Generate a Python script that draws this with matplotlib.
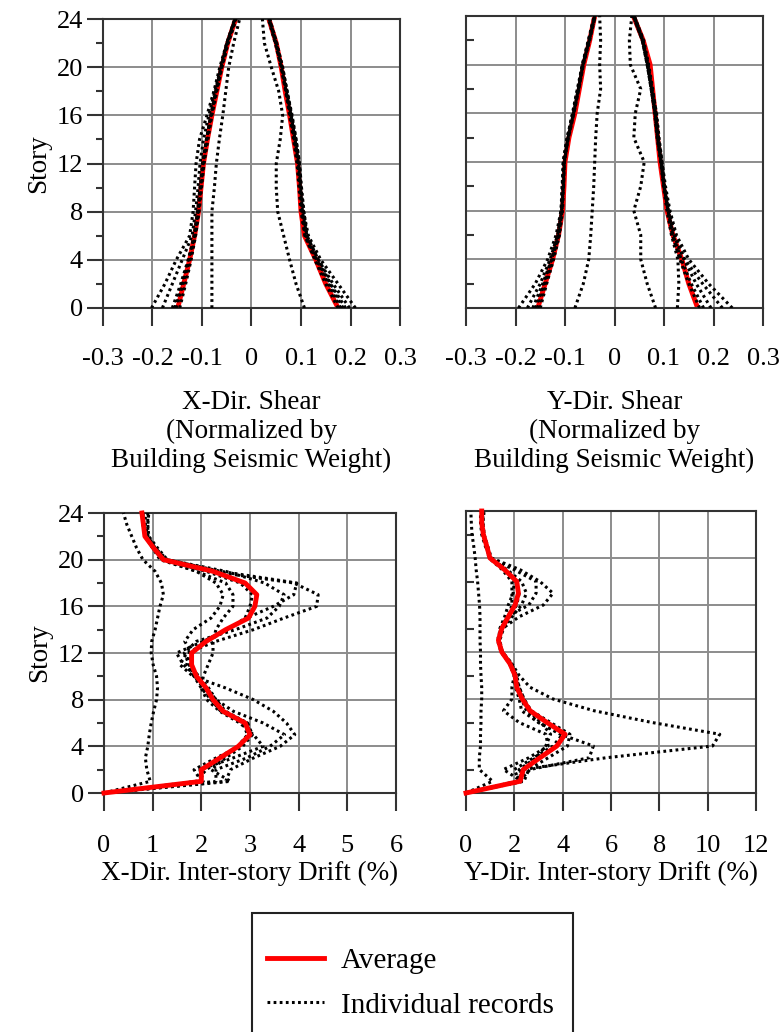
import matplotlib
matplotlib.use("Agg")
import matplotlib.pyplot as plt
from matplotlib.ticker import MultipleLocator
from matplotlib.lines import Line2D
from matplotlib.patches import Rectangle

plt.rcParams['font.family'] = ['Liberation Serif', 'DejaVu Serif']

# storeys used for the shear profiles and for the drift profiles
story_shear = [0, 2, 4, 6, 8, 10, 12, 14, 16, 18, 20, 22, 24]
story_drift = [0, 1, 2, 3, 4, 5, 6, 7, 8, 9, 10, 11, 12,
               13, 14, 15, 16, 17, 18, 19, 20, 21, 22, 23, 24]

# X-direction storey shear / seismic weight, positive and negative envelopes
x_shear_avg_pos = [0.175, 0.15, 0.13, 0.107, 0.1, 0.097, 0.093, 0.085, 0.077, 0.068, 0.06, 0.05, 0.035]
x_shear_avg_neg = [-0.149, -0.137, -0.125, -0.115, -0.107, -0.102, -0.097, -0.089, -0.08, -0.07, -0.06, -0.048, -0.032]
x_shear_pos = [
    [0.107, 0.09, 0.077, 0.065, 0.053, 0.05, 0.05, 0.058, 0.063, 0.055, 0.04, 0.026, 0.022],
    [0.21, 0.175, 0.14, 0.115, 0.105, 0.1, 0.097, 0.09, 0.082, 0.072, 0.062, 0.05, 0.036],
    [0.198, 0.165, 0.135, 0.112, 0.103, 0.099, 0.095, 0.088, 0.08, 0.07, 0.06, 0.048, 0.034],
    [0.185, 0.158, 0.132, 0.11, 0.104, 0.1, 0.096, 0.087, 0.079, 0.071, 0.062, 0.05, 0.035],
    [0.18, 0.155, 0.13, 0.108, 0.102, 0.098, 0.094, 0.086, 0.078, 0.07, 0.061, 0.049, 0.036],
    [0.19, 0.16, 0.135, 0.112, 0.106, 0.101, 0.097, 0.09, 0.081, 0.072, 0.063, 0.051, 0.037],
    [0.175, 0.15, 0.128, 0.108, 0.1, 0.096, 0.092, 0.085, 0.077, 0.069, 0.06, 0.05, 0.036],
]
x_shear_neg = [
    [-0.08, -0.08, -0.08, -0.08, -0.08, -0.075, -0.071, -0.065, -0.058, -0.052, -0.046, -0.036, -0.024],
    [-0.202, -0.175, -0.152, -0.125, -0.118, -0.115, -0.112, -0.105, -0.09, -0.076, -0.064, -0.05, -0.034],
    [-0.18, -0.16, -0.14, -0.12, -0.113, -0.108, -0.104, -0.097, -0.086, -0.074, -0.062, -0.05, -0.033],
    [-0.16, -0.143, -0.128, -0.115, -0.108, -0.103, -0.098, -0.091, -0.082, -0.072, -0.061, -0.049, -0.033],
    [-0.152, -0.138, -0.125, -0.114, -0.107, -0.102, -0.097, -0.09, -0.081, -0.071, -0.06, -0.048, -0.032],
    [-0.145, -0.133, -0.122, -0.113, -0.106, -0.101, -0.096, -0.088, -0.08, -0.07, -0.06, -0.047, -0.031],
    [-0.155, -0.14, -0.127, -0.116, -0.109, -0.104, -0.099, -0.091, -0.082, -0.072, -0.061, -0.049, -0.033],
]

# Y-direction storey shear / seismic weight
y_shear_avg_pos = [0.168, 0.15, 0.136, 0.118, 0.106, 0.099, 0.092, 0.087, 0.082, 0.077, 0.072, 0.058, 0.038]
y_shear_avg_neg = [-0.155, -0.14, -0.125, -0.113, -0.105, -0.102, -0.1, -0.092, -0.08, -0.071, -0.062, -0.05, -0.04]
y_shear_pos = [
    [0.083, 0.066, 0.053, 0.053, 0.039, 0.053, 0.06, 0.039, 0.042, 0.053, 0.032, 0.03, 0.035],
    [0.238, 0.19, 0.15, 0.125, 0.112, 0.103, 0.096, 0.09, 0.085, 0.076, 0.068, 0.058, 0.04],
    [0.218, 0.178, 0.142, 0.122, 0.11, 0.1, 0.095, 0.088, 0.083, 0.075, 0.066, 0.056, 0.038],
    [0.195, 0.165, 0.14, 0.12, 0.108, 0.1, 0.094, 0.087, 0.082, 0.074, 0.067, 0.057, 0.04],
    [0.127, 0.13, 0.128, 0.115, 0.106, 0.099, 0.093, 0.086, 0.081, 0.074, 0.066, 0.056, 0.038],
    [0.18, 0.155, 0.135, 0.118, 0.109, 0.101, 0.096, 0.089, 0.084, 0.077, 0.069, 0.059, 0.04],
    [0.172, 0.15, 0.132, 0.117, 0.108, 0.1, 0.094, 0.087, 0.082, 0.075, 0.067, 0.057, 0.039],
]
y_shear_neg = [
    [-0.08, -0.063, -0.052, -0.048, -0.045, -0.042, -0.04, -0.038, -0.035, -0.028, -0.03, -0.028, -0.03],
    [-0.194, -0.16, -0.135, -0.118, -0.108, -0.104, -0.102, -0.095, -0.084, -0.074, -0.065, -0.052, -0.04],
    [-0.176, -0.15, -0.13, -0.115, -0.107, -0.103, -0.101, -0.094, -0.083, -0.073, -0.064, -0.051, -0.04],
    [-0.165, -0.145, -0.127, -0.112, -0.106, -0.104, -0.102, -0.093, -0.082, -0.072, -0.063, -0.05, -0.039],
    [-0.155, -0.14, -0.125, -0.113, -0.108, -0.106, -0.103, -0.095, -0.085, -0.075, -0.065, -0.053, -0.041],
    [-0.16, -0.142, -0.127, -0.114, -0.107, -0.105, -0.104, -0.096, -0.084, -0.074, -0.064, -0.052, -0.04],
    [-0.15, -0.137, -0.123, -0.111, -0.105, -0.103, -0.101, -0.093, -0.082, -0.072, -0.063, -0.051, -0.039],
]

# inter-storey drift (%), X direction
x_drift_avg = [0, 2.0, 2.0, 2.38, 2.76, 3.0, 2.9, 2.45, 2.24, 2.1, 1.9, 1.8, 1.8,
               2.1, 2.5, 2.97, 3.1, 3.14, 2.9, 2.24, 1.22, 1.02, 0.84, 0.81, 0.78]
x_drift = [
    [0, 0.95, 0.88, 0.85, 0.9, 0.93, 0.97, 1.02, 1.08, 1.1, 1.08, 1.01, 0.97,
     0.98, 1.05, 1.1, 1.15, 1.22, 1.18, 1.05, 0.8, 0.67, 0.57, 0.47, 0.4],
    [0, 2.5, 2.6, 3.07, 3.62, 3.92, 3.75, 3.48, 3.07, 2.5, 1.83, 1.56, 1.7,
     2.3, 3.07, 3.7, 4.37, 4.4, 3.9, 2.2, 1.25, 1.05, 0.9, 0.9, 0.92],
    [0, 2.3, 2.3, 2.93, 3.41, 3.71, 3.27, 2.66, 2.3, 2.11, 1.9, 1.63, 1.49,
     2.04, 2.52, 2.93, 3.48, 3.9, 3.96, 2.4, 1.3, 1.1, 0.92, 0.9, 0.9],
    [0, 2.04, 1.97, 2.65, 3.27, 3.07, 2.79, 2.38, 2.11, 2.0, 2.04, 2.14, 2.24,
     2.24, 2.3, 2.45, 2.65, 2.65, 2.5, 1.9, 1.15, 1.0, 0.85, 0.8, 0.8],
    [0, 2.0, 1.85, 2.3, 2.8, 3.0, 2.95, 2.4, 2.2, 2.0, 1.85, 1.75, 1.8,
     1.66, 1.83, 2.2, 2.38, 2.45, 2.3, 1.9, 1.2, 1.0, 0.85, 0.8, 0.78],
    [0, 2.6, 2.2, 2.5, 2.85, 3.05, 2.95, 2.5, 2.3, 2.15, 1.95, 1.75, 1.65,
     1.9, 2.7, 3.35, 3.6, 3.7, 3.3, 2.5, 1.3, 1.05, 0.9, 0.85, 0.85],
    [0, 1.9, 2.1, 2.45, 2.75, 2.95, 2.85, 2.45, 2.2, 2.05, 1.85, 1.7, 1.75,
     2.1, 2.55, 2.9, 3.0, 3.05, 2.8, 2.1, 1.2, 1.0, 0.85, 0.82, 0.8],
]

# inter-storey drift (%), Y direction
y_drift_avg = [0, 2.24, 2.37, 3.06, 3.76, 4.1, 3.35, 2.65, 2.33, 2.1, 2.03, 1.82, 1.48,
               1.34, 1.48, 1.75, 2.03, 2.17, 2.1, 1.6, 0.99, 0.86, 0.72, 0.65, 0.65]
y_drift = [
    [0, 1.1, 0.55, 0.55, 0.6, 0.6, 0.62, 0.62, 0.65, 0.65, 0.62, 0.6, 0.6,
     0.58, 0.58, 0.58, 0.56, 0.52, 0.48, 0.42, 0.38, 0.32, 0.25, 0.22, 0.2],
    [0, 2.1, 2.3, 5.8, 10.2, 10.5, 7.7, 5.3, 3.6, 2.65, 2.2, 1.9, 1.5,
     1.4, 1.55, 1.9, 2.3, 2.5, 2.3, 1.7, 1.0, 0.85, 0.7, 0.65, 0.65],
    [0, 2.2, 2.65, 5.1, 5.27, 3.9, 3.0, 2.5, 2.3, 2.1, 2.0, 1.8, 1.5,
     1.35, 1.5, 2.2, 3.2, 3.6, 3.06, 2.24, 1.05, 0.9, 0.75, 0.7, 0.7],
    [0, 2.3, 1.55, 2.6, 3.4, 3.3, 2.2, 1.55, 1.9, 1.9, 2.0, 1.8, 1.45,
     1.3, 1.45, 1.7, 2.6, 2.9, 2.9, 2.0, 1.0, 0.85, 0.7, 0.65, 0.65],
    [0, 2.2, 2.0, 2.8, 3.6, 4.0, 3.0, 2.3, 2.2, 2.05, 2.0, 1.85, 1.5,
     1.35, 1.5, 1.8, 2.1, 2.2, 2.1, 1.6, 1.0, 0.8, 0.65, 0.6, 0.6],
    [0, 2.4, 2.6, 3.4, 4.2, 4.3, 3.5, 2.7, 2.4, 2.2, 2.1, 1.85, 1.5,
     1.35, 1.45, 1.75, 1.9, 1.9, 1.9, 1.5, 0.95, 0.85, 0.75, 0.7, 0.75],
    [0, 2.3, 2.2, 2.9, 3.3, 3.5, 3.1, 2.6, 2.4, 2.2, 2.05, 1.9, 1.5,
     1.35, 1.4, 1.6, 1.75, 1.95, 2.0, 1.6, 1.0, 0.85, 0.7, 0.65, 0.65],
]

x_shear_ticks = [-0.3, -0.2, -0.1, 0, 0.1, 0.2, 0.3]
x_shear_ticklabels = ['-0.3', '-0.2', '-0.1', '0', '0.1', '0.2', '0.3']
story_ticks = [0, 4, 8, 12, 16, 20, 24]

DOT = (0, (0.9, 1.1))
RED = '#ff0000'
GRID = '#8c8c8c'
SPINE = '#333333'
TICK_FS = 19
LABEL_FS = 19.5


def style_axes(ax, xlim, xticks, xticklabels, left_panel, xpad):
    ax.set_xlim(xlim)
    ax.set_ylim(0, 24)
    ax.set_xticks(xticks)
    ax.set_xticklabels(xticklabels)
    ax.set_yticks(story_ticks)
    ax.yaxis.set_minor_locator(MultipleLocator(2))
    ax.grid(True, which='major', color=GRID, linewidth=1.4)
    ax.set_axisbelow(True)
    for s in ax.spines.values():
        s.set_color(SPINE)
        s.set_linewidth(1.5)
    ax.tick_params(axis='x', direction='out', length=13, width=1.5, color=SPINE,
                   labelsize=TICK_FS, pad=xpad)
    if left_panel:
        ax.tick_params(axis='y', which='major', direction='out', length=11.5, width=1.5,
                       color=SPINE, labelsize=TICK_FS, pad=3)
        ax.tick_params(axis='y', which='minor', direction='out', length=5, width=1.5,
                       color=SPINE)
        ax.set_ylabel('Story', fontsize=LABEL_FS, labelpad=4)
    else:
        ax.tick_params(axis='y', which='major', length=0, labelleft=False)
        ax.tick_params(axis='y', which='minor', direction='in', length=6, width=1.5,
                       color=SPINE)


def plot_shear(ax, pos_list, neg_list, avg_pos, avg_neg):
    for rec in pos_list + neg_list:
        ax.plot(rec, story_shear, color='black', linestyle=DOT, linewidth=2.2,
                dash_capstyle='butt', zorder=3)
    ax.plot(avg_pos, story_shear, color=RED, linewidth=3.5, zorder=2.5)
    ax.plot(avg_neg, story_shear, color=RED, linewidth=3.5, zorder=2.5)


def plot_drift(ax, rec_list, avg):
    for rec in rec_list:
        ax.plot(rec, story_drift, color='black', linestyle=DOT, linewidth=2.2,
                dash_capstyle='butt', zorder=3, clip_on=False)
    ax.plot(avg, story_drift, color=RED, linewidth=3.5, zorder=4, clip_on=False)


fig = plt.figure(figsize=(7.8, 10.32), dpi=100)

ax1 = fig.add_axes([103 / 780, 1 - 308 / 1032, 297 / 780, 289 / 1032])
ax2 = fig.add_axes([466 / 780, 1 - 308 / 1032, 297 / 780, 292 / 1032])
ax3 = fig.add_axes([104 / 780, 1 - 793 / 1032, 292 / 780, 280 / 1032])
ax4 = fig.add_axes([466 / 780, 1 - 793 / 1032, 290 / 780, 282 / 1032])

plot_shear(ax1, x_shear_pos, x_shear_neg, x_shear_avg_pos, x_shear_avg_neg)
style_axes(ax1, (-0.3, 0.3), x_shear_ticks, x_shear_ticklabels, True, 16)
ax1.set_xlabel('X-Dir. Shear\n(Normalized by\nBuilding Seismic Weight)',
               fontsize=LABEL_FS, linespacing=1.2, labelpad=14)

plot_shear(ax2, y_shear_pos, y_shear_neg, y_shear_avg_pos, y_shear_avg_neg)
style_axes(ax2, (-0.3, 0.3), x_shear_ticks, x_shear_ticklabels, False, 16)
ax2.set_xlabel('Y-Dir. Shear\n(Normalized by\nBuilding Seismic Weight)',
               fontsize=LABEL_FS, linespacing=1.2, labelpad=14)

plot_drift(ax3, x_drift, x_drift_avg)
style_axes(ax3, (0, 6), [0, 1, 2, 3, 4, 5, 6], ['0', '1', '2', '3', '4', '5', '6'], True, 17)
ax3.set_xlabel('X-Dir. Inter-story Drift (%)', fontsize=LABEL_FS, labelpad=3)

plot_drift(ax4, y_drift, y_drift_avg)
style_axes(ax4, (0, 12), [0, 2, 4, 6, 8, 10, 12],
           ['0', '2', '4', '6', '8', '10', '12'], False, 17)
ax4.set_xlabel('Y-Dir. Inter-story Drift (%)', fontsize=LABEL_FS, labelpad=3)

# legend box, its bottom edge runs off the page as in the original
box = Rectangle((252 / 780, -0.01), (573 - 252) / 780, (1032 - 913) / 1032 + 0.01,
                transform=fig.transFigure, fill=False, edgecolor='#222222',
                linewidth=1.5)
fig.patches.append(box)
handles = [Line2D([], [], color=RED, linewidth=3.5),
           Line2D([], [], color='black', linestyle=DOT, linewidth=2.2)]
fig.legend(handles, ['Average', 'Individual records'], loc='upper left',
           bbox_to_anchor=(255 / 780, 1 - 936 / 1032), frameon=False,
           borderaxespad=0, fontsize=21, handlelength=1.95, handletextpad=0.6,
           labelspacing=0.62)

fig.savefig('out.png', dpi=100)
